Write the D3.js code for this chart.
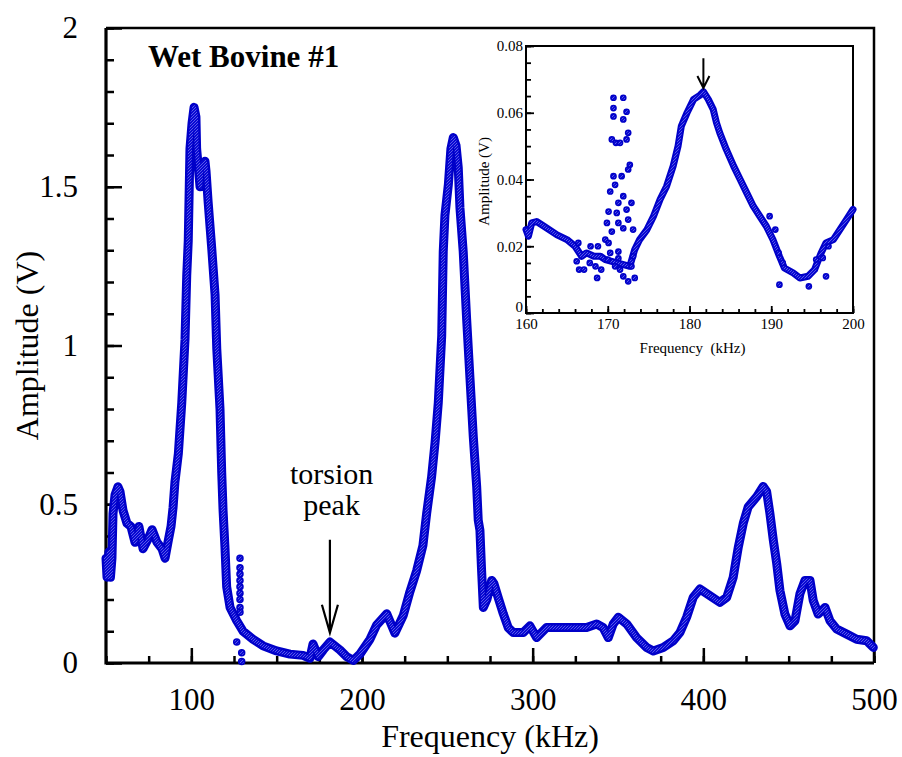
<!DOCTYPE html>
<html>
<head>
<meta charset="utf-8">
<script src="https://cdn.jsdelivr.net/npm/d3@7"></script>
<style>
body { margin: 0; background: #fff; }
svg { display: block; font-family: "Liberation Serif", "Times New Roman", serif; }
</style>
</head>
<body>
<div id="main"></div>
<script>
// main sweep, 50 - 500 kHz
let mainFreq = [50, 50.6, 51.7, 52.6, 53.5, 54.1, 55.3, 57.0, 58.2, 60.0, 62.3, 64.6, 67.0, 69.3, 71.7, 74.6, 77.0, 79.9,
    82.8, 84.6, 86.3, 88.1, 89.3, 90.4, 92.4, 94.4, 96.3, 97.3, 98.2, 99.2, 100.4, 101.6, 102.7, 103.1, 105.1, 106.2,
    108.0, 108.6, 109.8, 111.9, 113.9, 114.9, 116.8, 117.8, 118.6, 119.7, 120.7, 122.7, 126.6, 130.3, 136.1, 142.0,
    150.0, 157.8, 165.4, 169.5, 171.3, 174.4, 177.3, 181.2, 187.1, 191.0, 194.9, 198.8, 204.7, 208.6, 214.5, 219.3,
    224.2, 228.1, 232.0, 235.7, 237.9, 240.8, 242.8, 244.7, 246.7, 247.6, 248.6, 250.6, 252.1, 253.5, 255.1, 256.4,
    257.4, 259.3, 261.3, 263.3, 265.2, 267.2, 268.1, 269.1, 270.0, 271.1, 273.2, 276.0, 277.3, 279.8, 282.8, 285.7,
    288.6, 294.5, 298.4, 302.3, 308.2, 319.5, 331.6, 337.5, 341.2, 344.3, 347.2, 350.2, 355.1, 360.9, 366.8, 370.7,
    376.5, 382.4, 386.3, 390.2, 394.1, 398.0, 403.9, 409.7, 413.7, 417.5, 420.5, 423.4, 426.3, 431.3, 435.1, 437.1,
    439.0, 441.0, 443.0, 444.9, 447.8, 450.8, 453.7, 456.6, 459.5, 462.5, 464.4, 467.3, 471.3, 474.2, 478.1, 484.0,
    489.8, 495.7, 499.6]
let mainAmp = [0.33, 0.27, 0.35, 0.27, 0.33, 0.47, 0.53, 0.555, 0.54, 0.48, 0.44, 0.43, 0.38, 0.43, 0.36, 0.39, 0.42, 0.38,
    0.36, 0.33, 0.38, 0.43, 0.49, 0.57, 0.66, 0.82, 1.02, 1.22, 1.33, 1.62, 1.70, 1.75, 1.72, 1.62, 1.50, 1.57,
    1.58, 1.55, 1.455, 1.31, 1.16, 0.99, 0.80, 0.60, 0.48, 0.365, 0.24, 0.175, 0.133, 0.10, 0.075, 0.054,
    0.038, 0.028, 0.024, 0.015, 0.06, 0.02, 0.041, 0.066, 0.041, 0.02, 0.008, 0.028, 0.075, 0.12, 0.155, 0.094,
    0.15, 0.225, 0.29, 0.37, 0.472, 0.587, 0.694, 0.82, 1.03, 1.295, 1.41, 1.507, 1.62, 1.655, 1.63, 1.56,
    1.433, 1.296, 1.084, 0.894, 0.713, 0.555, 0.45, 0.418, 0.30, 0.175, 0.20, 0.26, 0.25, 0.206, 0.155, 0.111,
    0.096, 0.096, 0.117, 0.08, 0.112, 0.112, 0.112, 0.123, 0.112, 0.08, 0.123, 0.144, 0.123, 0.08, 0.049, 0.038,
    0.049, 0.07, 0.096, 0.144, 0.207, 0.233, 0.212, 0.191, 0.207, 0.27, 0.365, 0.44, 0.492, 0.524, 0.556, 0.54,
    0.471, 0.387, 0.313, 0.228, 0.154, 0.117, 0.133, 0.218, 0.26, 0.26, 0.197, 0.154, 0.175, 0.133, 0.107, 0.091,
    0.075, 0.07, 0.049]
// stray points near 128 kHz
let strayFreq = [128.5, 128.5, 128.5, 128.5, 128.5, 128.5, 128.5, 128.5, 128.5, 126.6, 129.5, 129.5]
let strayAmp = [0.33, 0.30, 0.28, 0.26, 0.24, 0.22, 0.20, 0.175, 0.16, 0.066, 0.032, 0.005]

// inset sweep, 160 - 200 kHz
let insetFreq = [160, 160.3, 160.7, 161.3, 162.2, 163.8, 165, 166, 166.8, 167.4, 168.3, 169.1, 169.7, 172.7, 173.3,
    173.9, 174.8, 175.6, 176.4, 177.2, 178, 178.6, 179, 179.7, 180.5, 181.3, 181.7, 182.3, 182.9, 183.3, 183.7,
    184.5, 185.4, 186.2, 187, 187.8, 188.6, 189.4, 190.2, 191, 191.6, 192.7, 193.5, 194.5, 195.3, 196.1, 196.7,
    197.6, 198.4, 199.2, 200]
let insetAmp = [0.025, 0.023, 0.027, 0.0274, 0.026, 0.0234, 0.022, 0.020, 0.017, 0.018, 0.017, 0.017, 0.016, 0.014, 0.019,
    0.022, 0.025, 0.029, 0.034, 0.038, 0.044, 0.050, 0.056, 0.060, 0.064, 0.0653, 0.0663, 0.064, 0.061, 0.057, 0.054,
    0.049, 0.044, 0.040, 0.036, 0.032, 0.029, 0.026, 0.022, 0.017, 0.0135, 0.012, 0.0105, 0.011, 0.013, 0.018, 0.021,
    0.022, 0.025, 0.028, 0.031]
// loose points of the inset
let insetDotFreq = [170.7, 171.9, 170.7, 170.7, 171.9, 172.3, 170.5, 171.0, 171.5, 172.3, 172.5, 172.7, 172.5, 170.7,
    171.7, 170.9, 170.3, 171.9, 171.3, 172.9, 170.1, 171.1, 172.3, 172.5, 169.9, 171.3, 170.5, 173.1, 171.9, 169.7,
    170.1, 171.3, 171.3, 170.9, 171.5, 171.9, 172.5, 173.3, 172.9, 173.1, 170.3, 170.0,
    166.5, 167.1, 168.7, 166.2, 167.8, 168.5, 169.2, 166.4, 167.9, 168.8,
    189.8, 190.5, 190.9, 191.0, 191.4, 194.6, 196.7, 195.5, 197.0, 196.3]
let insetDotAmp = [0.0645, 0.0645, 0.0614, 0.0589, 0.058, 0.0603, 0.052, 0.051, 0.051, 0.052, 0.054, 0.0444, 0.043, 0.041,
    0.041, 0.0384, 0.0364, 0.035, 0.033, 0.033, 0.0304, 0.030, 0.031, 0.028, 0.027, 0.027, 0.0244, 0.025, 0.0254, 0.022,
    0.021, 0.0184, 0.0164, 0.014, 0.013, 0.011, 0.0095, 0.0105, 0.014, 0.017, 0.018, 0.016,
    0.013, 0.013, 0.0105, 0.0155, 0.015, 0.014, 0.013, 0.021, 0.020, 0.020,
    0.029, 0.025, 0.018, 0.0085, 0.015, 0.008, 0.011, 0.016, 0.020, 0.0165]

let xTicks = [100, 200, 300, 400, 500]
let yTicks = [0, 0.5, 1, 1.5, 2]
let insetXTicks = [160, 170, 180, 190, 200]
let insetYTicks = [0, 0.02, 0.04, 0.06, 0.08]

let blue = "#0000c8"

function styleAxis(g, size, width) {
    g.select(".domain").remove()
    g.selectAll("line").attr("stroke", "#000").attr("stroke-width", width)
    g.selectAll("text").attr("font-family", "Liberation Serif").attr("font-size", size).attr("fill", "#000")
    g.attr("font-family", null).attr("font-size", null)
}

function drawTrace(svg, sx, sy, freq, amp, w) {
    let pts = freq.map((f, i) => [f, amp[i]])
    let makeLine = d3.line().x(d => sx(d[0])).y(d => sy(d[1]))
    svg.append("path").attr("d", makeLine(pts))
        .attr("fill", "none").attr("stroke", blue).attr("stroke-width", w)
        .attr("stroke-linejoin", "round").attr("stroke-linecap", "round")
    svg.append("path").attr("d", makeLine(pts))
        .attr("fill", "none").attr("stroke", "url(#hatch)").attr("stroke-width", w * 0.45)
        .attr("stroke-linejoin", "round").attr("stroke-linecap", "round")
}

function drawDots(svg, sx, sy, freq, amp, r) {
    svg.append("g").selectAll("circle").data(freq).enter()
        .append("circle")
        .attr("cx", d => sx(d))
        .attr("cy", (d, i) => sy(amp[i]))
        .attr("r", r)
        .attr("fill", "url(#hatch)")
        .attr("stroke", blue)
        .attr("stroke-width", 1.5)
}

function drawChart() {
    let L = 106, R = 874, T = 28, B = 663
    let svg = d3.select("#main").append("svg").attr("width", 902).attr("height", 757)

    let pat = svg.append("defs").append("pattern")
        .attr("id", "hatch").attr("patternUnits", "userSpaceOnUse")
        .attr("width", 3).attr("height", 3)
    pat.append("rect").attr("width", 3).attr("height", 3).attr("fill", "#0808d4")
    pat.append("path").attr("d", "M0,3 L3,0").attr("stroke", "#7c7cee").attr("stroke-width", 0.7)

    let x = d3.scaleLinear().domain([50, 500]).range([L, R])
    let y = d3.scaleLinear().domain([0, 2]).range([B, T])

    // main axes, ticks point inward
    let gx = svg.append("g").attr("transform", `translate(0,${B})`)
        .call(d3.axisBottom(x).tickValues(d3.range(50, 501, 25)).tickSize(-7).tickFormat(""))
    styleAxis(gx, 31, 2.5)
    gx = svg.append("g").attr("transform", `translate(0,${B})`)
        .call(d3.axisBottom(x).tickValues(xTicks).tickSize(-15).tickPadding(25).tickFormat(d3.format("~g")))
    styleAxis(gx, 31, 2.5)

    let gy = svg.append("g").attr("transform", `translate(${L},0)`)
        .call(d3.axisLeft(y).tickValues(d3.range(0, 20.5, 1).map(d => d / 10)).tickSize(-8).tickFormat(""))
    styleAxis(gy, 31, 2.5)
    gy = svg.append("g").attr("transform", `translate(${L},0)`)
        .call(d3.axisLeft(y).tickValues(yTicks).tickSize(-16).tickPadding(28).tickFormat(d3.format("~g")))
    styleAxis(gy, 31, 2.5)

    // frame
    svg.append("path").attr("d", `M${L},${T} H${R} V${B}`)
        .attr("fill", "none").attr("stroke", "#000").attr("stroke-width", 2.5)
    svg.append("path").attr("d", `M${L},${T} V${B} H${R}`)
        .attr("fill", "none").attr("stroke", "#000").attr("stroke-width", 3.2)

    drawTrace(svg, x, y, mainFreq, mainAmp, 9)
    drawDots(svg, x, y, strayFreq, strayAmp, 3)

    svg.append("text").attr("x", (L + R) / 2).attr("y", 747)
        .attr("text-anchor", "middle").attr("font-size", 32).text("Frequency (kHz)")
    svg.append("text").attr("transform", `translate(38,${(T + B) / 2}) rotate(-90)`)
        .attr("text-anchor", "middle").attr("font-size", 32).text("Amplitude (V)")
    svg.append("text").attr("x", x(74.6)).attr("y", y(1.876))
        .attr("font-size", 31).attr("font-weight", "bold").text("Wet Bovine #1")

    // torsion peak note
    svg.append("text").attr("x", x(182.2)).attr("y", y(0.563))
        .attr("text-anchor", "middle").attr("font-size", 30).text("torsion")
    svg.append("text").attr("x", x(182.2)).attr("y", y(0.466))
        .attr("text-anchor", "middle").attr("font-size", 30).text("peak")
    let ax = x(181.2), a0 = y(0.388), a1 = y(0.0955)
    svg.append("path").attr("d", `M${ax},${a0} V${a1} M${ax - 8},${a1 - 28} L${ax},${a1} L${ax + 8},${a1 - 28}`)
        .attr("fill", "none").attr("stroke", "#000").attr("stroke-width", 2.2)

    // inset
    let iL = 526, iR = 853, iT = 46, iB = 313
    let ix = d3.scaleLinear().domain([160, 200]).range([iL, iR])
    let iy = d3.scaleLinear().domain([0, 0.08]).range([iB, iT])
    svg.append("rect").attr("x", iL).attr("y", iT).attr("width", iR - iL).attr("height", iB - iT).attr("fill", "#fff")

    let ig = svg.append("g").attr("transform", `translate(0,${iB})`)
        .call(d3.axisBottom(ix).tickValues(d3.range(160, 201, 2)).tickSize(-4).tickFormat(""))
    styleAxis(ig, 15, 1.8)
    ig = svg.append("g").attr("transform", `translate(0,${iB})`)
        .call(d3.axisBottom(ix).tickValues(insetXTicks).tickSize(-7).tickPadding(5).tickFormat(d3.format("~g")))
    styleAxis(ig, 15, 1.8)
    ig = svg.append("g").attr("transform", `translate(${iL},0)`)
        .call(d3.axisLeft(iy).tickValues(d3.range(0, 16.5, 1).map(d => d * 0.005)).tickSize(-5).tickFormat(""))
    styleAxis(ig, 15, 1.8)
    ig = svg.append("g").attr("transform", `translate(${iL},0)`)
        .call(d3.axisLeft(iy).tickValues(insetYTicks).tickSize(-8).tickPadding(3).tickFormat(d3.format("~g")))
    styleAxis(ig, 15, 1.8)
    // lift the "0" off the "160"
    ig.selectAll("text").attr("dy", d => d === 0 ? "-0.1em" : "0.32em")

    svg.append("rect").attr("x", iL).attr("y", iT).attr("width", iR - iL).attr("height", iB - iT)
        .attr("fill", "none").attr("stroke", "#000").attr("stroke-width", 2)

    drawTrace(svg, ix, iy, insetFreq, insetAmp, 7)
    drawDots(svg, ix, iy, insetDotFreq, insetDotAmp, 2.6)

    svg.append("text").attr("x", (iL + iR) / 2 + 3).attr("y", 353)
        .attr("text-anchor", "middle").attr("font-size", 15).attr("xml:space", "preserve").text("Frequency  (kHz)")
    svg.append("text").attr("transform", `translate(489,${(iT + iB) / 2 + 2}) rotate(-90)`)
        .attr("text-anchor", "middle").attr("font-size", 15).text("Amplitude (V)")

    let bx = ix(181.7), b0 = iy(0.0763), b1 = iy(0.0674)
    svg.append("path").attr("d", `M${bx},${b0} V${b1} M${bx - 6},${b1 - 12} L${bx},${b1} L${bx + 6},${b1 - 12}`)
        .attr("fill", "none").attr("stroke", "#000").attr("stroke-width", 2)
}

drawChart()
</script>
</body>
</html>
